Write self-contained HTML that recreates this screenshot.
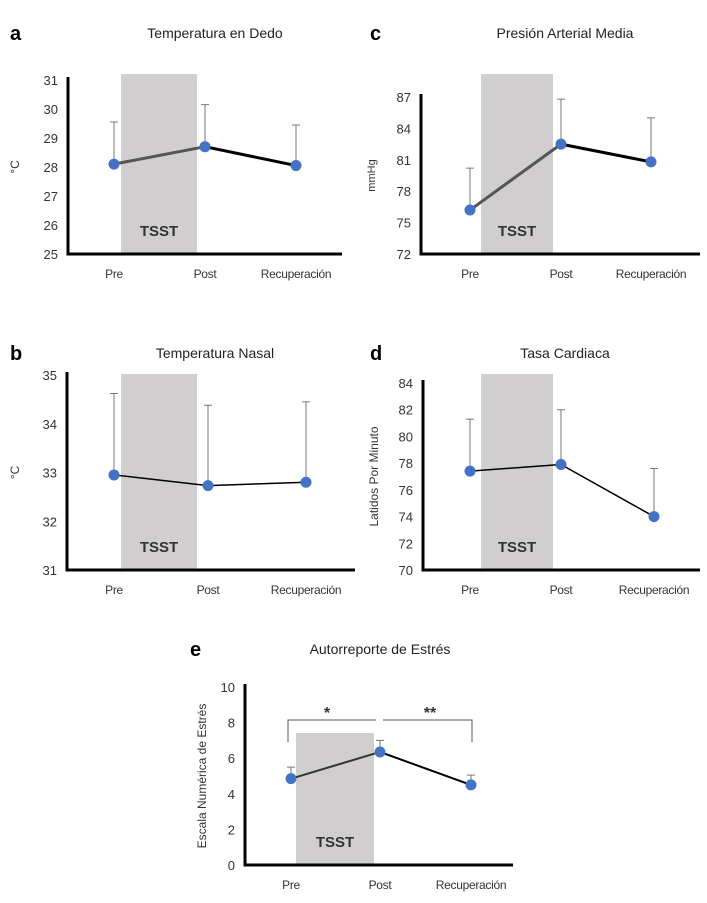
<!DOCTYPE html>
<html><head><meta charset="utf-8"><style>
body{margin:0;background:#fff;width:707px;height:898px;overflow:hidden}
svg{font-family:"Liberation Sans",sans-serif}
</style></head><body>
<svg id="s" width="707" height="898" viewBox="0 0 707 898"></svg>
<script>
const categories=["Pre","Post","Recuperación"];
const aValues=[28.1,28.7,28.05], aErr=[29.55,30.15,29.45], aTicks=[25,26,27,28,29,30,31];
const bValues=[32.95,32.73,32.8], bErr=[34.62,34.38,34.45], bTicks=[31,32,33,34,35];
const cValues=[76.2,82.5,80.8], cErr=[80.2,86.8,85.0], cTicks=[72,75,78,81,84,87];
const dValues=[77.4,77.9,74.0], dErr=[81.3,82.0,77.6], dTicks=[70,72,74,76,78,80,82,84];
const eValues=[4.85,6.35,4.5], eErr=[5.5,7.0,5.05], eTicks=[0,2,4,6,8,10];
const S=document.getElementById('s');
const NS="http://www.w3.org/2000/svg";
function mk(tag,attrs,parent){const e=document.createElementNS(NS,tag);for(const k in attrs)e.setAttribute(k,attrs[k]);(parent||S).appendChild(e);return e;}
function txt(x,y,t,attrs,parent){const e=mk('text',Object.assign({x:x,y:y},attrs),parent);e.textContent=t;return e;}
function panel(p){
  const g=mk('g',{});
  
  
  const y0=p.ticks[0],y1=p.ticks[p.ticks.length-1];
  const ys=v=>p.yb+(v-y0)/(y1-y0)*(p.yt-p.yb);
  const xs=i=>p.xp[i];
  const sh=mk('rect',{x:p.sx0,y:p.st,width:p.sx1-p.sx0,height:p.yb-p.st,fill:'#d0cece'},g);
  
  
  const tl=txt((p.sx0+p.sx1)/2,p.yb-18,'TSST',{'text-anchor':'middle','font-size':15,'font-weight':'bold',fill:'#333'},g);
  
  
  const ax=mk('path',{d:`M${p.ax},${p.yt-3}V${p.yb}H${p.xe}`,stroke:'#000','stroke-width':3,fill:'none'},g);
  
  
  p.ticks.forEach(t=>{const e=txt(p.ax-10,ys(t)+5,String(t),{'text-anchor':'end','font-size':13,fill:'#333'},g);
    
    });
  categories.forEach((c,i)=>{const e=txt(xs(i),p.yb+24,c,{'text-anchor':'middle','font-size':12,fill:'#333','letter-spacing':'-0.3'},g);
    
    });
  p.err.forEach((v,i)=>{const e=mk('path',{d:`M${xs(i)},${ys(p.vals[i])}V${ys(v)}M${xs(i)-4},${ys(v)}H${xs(i)+4}`,stroke:'#777','stroke-width':1,fill:'none'},g);
    
    });
  for(let i=0;i<p.vals.length-1;i++){const e=mk('line',{x1:xs(i),y1:ys(p.vals[i]),x2:xs(i+1),y2:ys(p.vals[i+1]),stroke:p.lc[i],'stroke-width':p.lw},g);
    
    }
  p.vals.forEach((v,i)=>{const e=mk('circle',{cx:xs(i),cy:ys(v),r:5.5,fill:'#4472c4'},g);
    
    });
  const ti=txt(p.tx,p.ty,p.title,{'text-anchor':'middle','font-size':14,fill:'#222'},g);
  
  
  const le=txt(p.lx,p.ty+2,p.letter,{'font-size':20,'font-weight':'bold',fill:'#000'},g);
  
  
  const yt=txt(0,0,p.ytitle,{'text-anchor':'middle','font-size':p.yfs||12,fill:'#333',transform:`translate(${p.ytx},${(p.yt+p.yb)/2}) rotate(-90)`},g);
  
  
  return ys;
}
panel({name:'panel-a',vals:aValues,err:aErr,ticks:aTicks,yt:80,yb:254,ax:68,xe:342,xp:[114,205,296],sx0:121,sx1:197,st:74,lc:['#555','#000'],lw:3,title:'Temperatura en Dedo',tx:215,ty:38,lx:10,letter:'a',ytitle:'°C',ytx:19});
panel({name:'panel-c',vals:cValues,err:cErr,ticks:cTicks,yt:97,yb:254,ax:421,xe:700,xp:[470,561,651],sx0:481,sx1:553,st:74,lc:['#555','#000'],lw:3,title:'Presión Arterial Media',tx:565,ty:38,lx:370,letter:'c',ytitle:'mmHg',ytx:375,yfs:11});
panel({name:'panel-b',vals:bValues,err:bErr,ticks:bTicks,yt:375,yb:570,ax:67,xe:355,xp:[114,208,306],sx0:121,sx1:197,st:374,lc:['#000','#000'],lw:1.5,title:'Temperatura Nasal',tx:215,ty:358,lx:10,letter:'b',ytitle:'°C',ytx:19});
panel({name:'panel-d',vals:dValues,err:dErr,ticks:dTicks,yt:383,yb:570,ax:423,xe:700,xp:[470,561,654],sx0:481,sx1:553,st:374,lc:['#000','#000'],lw:1.5,title:'Tasa Cardiaca',tx:565,ty:358,lx:370,letter:'d',ytitle:'Latidos Por Minuto',ytx:378});
const eys=panel({name:'panel-e',vals:eValues,err:eErr,ticks:eTicks,yt:687,yb:865,ax:245,xe:513,xp:[291,380,471],sx0:296,sx1:374,st:733,lc:['#333','#000'],lw:2,title:'Autorreporte de Estrés',tx:380,ty:654,lx:190,letter:'e',ytitle:'Escala Numérica de Estrés',ytx:206});
const br=mk('path',{d:'M288,742V720H376M383,720H472V742',stroke:'#555','stroke-width':1,fill:'none'});


const s1=txt(327,718,'*',{'text-anchor':'middle','font-size':16,'font-weight':'bold',fill:'#333'});


const s2=txt(430,718,'**',{'text-anchor':'middle','font-size':16,'font-weight':'bold',fill:'#333'});


</script>
</body></html>
